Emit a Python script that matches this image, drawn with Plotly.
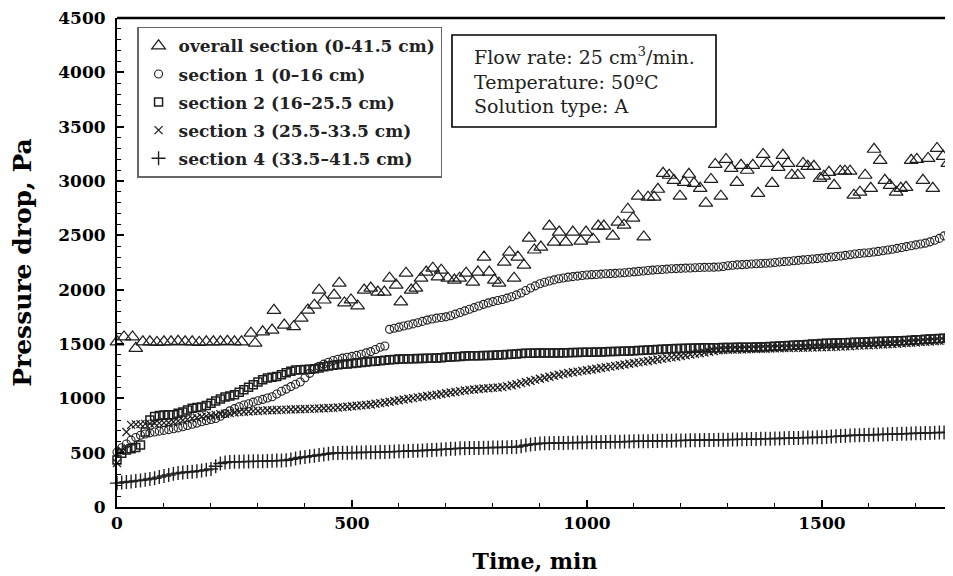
import plotly.graph_objects as go

# ---------------- data ----------------
time_min = [
    0, 10, 20, 30, 40, 50, 60, 70, 80, 90,
    100, 110, 120, 130, 140, 150, 160, 170, 180, 190,
    200, 210, 220, 230, 240, 250, 260, 270, 280, 290,
    300, 310, 320, 330, 340, 350, 360, 370, 380, 390,
    400, 410, 420, 430, 440, 450, 460, 470, 480, 490,
    500, 510, 520, 530, 540, 550, 560, 570, 580, 590,
    600, 610, 620, 630, 640, 650, 660, 670, 680, 690,
    700, 710, 720, 730, 740, 750, 760, 770, 780, 790,
    800, 810, 820, 830, 840, 850, 860, 870, 880, 890,
    900, 910, 920, 930, 940, 950, 960, 970, 980, 990,
    1000, 1010, 1020, 1030, 1040, 1050, 1060, 1070, 1080, 1090,
    1100, 1110, 1120, 1130, 1140, 1150, 1160, 1170, 1180, 1190,
    1200, 1210, 1220, 1230, 1240, 1250, 1260, 1270, 1280, 1290,
    1300, 1310, 1320, 1330, 1340, 1350, 1360, 1370, 1380, 1390,
    1400, 1410, 1420, 1430, 1440, 1450, 1460, 1470, 1480, 1490,
    1500, 1510, 1520, 1530, 1540, 1550, 1560, 1570, 1580, 1590,
    1600, 1610, 1620, 1630, 1640, 1650, 1660, 1670, 1680, 1690,
    1700, 1710, 1720, 1730, 1740, 1750, 1760, 1770, 1780,
]

section1 = [
    505, 545, 580, 615, 640, 660, 672, 682, 690, 698,
    705, 712, 720, 728, 738, 750, 762, 772, 785, 795,
    805, 815, 835, 860, 885, 905, 922, 938, 950, 965,
    978, 990, 1003, 1015, 1040, 1065, 1085, 1108, 1130, 1150,
    1190, 1230, 1270, 1295, 1315, 1332, 1348, 1360, 1370, 1378,
    1386, 1395, 1405, 1418, 1430, 1450, 1470, 1482, 1635, 1645,
    1655, 1665, 1675, 1685, 1695, 1708, 1720, 1730, 1738, 1744,
    1750, 1760, 1775, 1790, 1805, 1820, 1835, 1850, 1865, 1878,
    1890, 1900, 1910, 1922, 1935, 1952, 1970, 1992, 2015, 2035,
    2055, 2068, 2080, 2090, 2100, 2108, 2115, 2120, 2125, 2130,
    2135, 2138, 2140, 2143, 2146, 2148, 2150, 2153, 2156, 2160,
    2164, 2168, 2172, 2176, 2180, 2183, 2186, 2189, 2192, 2194,
    2196, 2198, 2200, 2202, 2204, 2205, 2206, 2207, 2208, 2213,
    2220, 2225, 2228, 2230, 2233, 2236, 2239, 2241, 2243, 2246,
    2250, 2254, 2258, 2262, 2266, 2270, 2274, 2278, 2282, 2286,
    2290, 2295, 2300, 2305, 2310, 2316, 2322, 2328, 2333, 2337,
    2340, 2346, 2352, 2358, 2365, 2372, 2380, 2388, 2396, 2404,
    2412, 2420, 2428, 2440, 2455, 2472, 2495, 2515, 2540,
]

section2 = [
    432, 495, 525, 535, 548, 570, 690, 800, 832, 842,
    847, 848, 850, 862, 875, 892, 908, 915, 920, 935,
    955, 975, 995, 1012, 1022, 1032, 1055, 1078, 1102, 1126,
    1150, 1170, 1188, 1195, 1200, 1218, 1235, 1250, 1260, 1262,
    1265, 1268, 1272, 1280, 1290, 1298, 1305, 1309, 1313, 1317,
    1321, 1325, 1330, 1334, 1338, 1342, 1346, 1350, 1354, 1358,
    1362, 1363, 1364, 1365, 1366, 1367, 1368, 1369, 1371, 1374,
    1377, 1380, 1383, 1386, 1389, 1391, 1392, 1393, 1394, 1395,
    1396, 1398, 1400, 1403, 1406, 1409, 1412, 1414, 1416, 1418,
    1418, 1418, 1418, 1418, 1418, 1419, 1420, 1421, 1422, 1423,
    1424, 1425, 1426, 1427, 1428, 1430, 1431, 1433, 1434, 1436,
    1437, 1440, 1442, 1445, 1447, 1450, 1452, 1455, 1456, 1458,
    1459, 1460, 1462, 1463, 1464, 1465, 1465, 1466, 1466, 1467,
    1468, 1468, 1469, 1470, 1471, 1471, 1472, 1473, 1474, 1476,
    1479, 1481, 1484, 1486, 1489, 1491, 1494, 1496, 1499, 1501,
    1504, 1506, 1508, 1509, 1511, 1512, 1514, 1515, 1517, 1518,
    1520, 1522, 1523, 1525, 1526, 1528, 1529, 1530, 1533, 1535,
    1538, 1540, 1543, 1545, 1548, 1550, 1552, 1555, 1557,
]

section3 = [
    405, 520, 690, 756, 760, 763, 765, 767, 770, 772,
    774, 776, 782, 790, 798, 806, 814, 822, 830, 836,
    842, 848, 853, 858, 864, 870, 873, 876, 879, 882,
    884, 887, 890, 891, 893, 894, 896, 897, 899, 900,
    902, 903, 905, 907, 909, 911, 912, 915, 919, 923,
    927, 931, 935, 939, 944, 950, 956, 962, 969, 976,
    983, 989, 996, 1002, 1009, 1015, 1021, 1027, 1033, 1040,
    1046, 1053, 1059, 1066, 1072, 1078, 1082, 1086, 1090, 1093,
    1096, 1099, 1103, 1112, 1121, 1130, 1140, 1150, 1160, 1170,
    1180, 1190, 1199, 1208, 1217, 1225, 1233, 1240, 1246, 1253,
    1259, 1266, 1272, 1279, 1286, 1292, 1299, 1305, 1312, 1318,
    1325, 1331, 1338, 1344, 1350, 1357, 1363, 1370, 1377, 1383,
    1390, 1396, 1403, 1409, 1415, 1421, 1428, 1436, 1443, 1445,
    1447, 1448, 1449, 1450, 1452, 1453, 1454, 1456, 1457, 1458,
    1460, 1461, 1462, 1463, 1464, 1465, 1466, 1467, 1468, 1469,
    1470, 1471, 1472, 1474, 1476, 1478, 1480, 1483, 1485, 1487,
    1489, 1491, 1494, 1496, 1498, 1500, 1503, 1506, 1509, 1511,
    1514, 1517, 1520, 1523, 1526, 1529, 1531, 1533, 1535,
]

section4 = [
    220, 225, 230, 235, 240, 245, 250, 257, 265, 275,
    285, 295, 305, 312, 318, 322, 325, 330, 335, 342,
    350, 375, 400, 410, 415, 416, 417, 418, 419, 420,
    420, 422, 424, 425, 427, 428, 430, 438, 446, 455,
    460, 466, 472, 478, 484, 490, 497, 498, 499, 499,
    500, 501, 502, 503, 504, 504, 505, 507, 508, 510,
    512, 513, 515, 517, 518, 520, 522, 525, 527, 530,
    532, 535, 537, 540, 541, 542, 543, 544, 545, 546,
    547, 548, 549, 550, 551, 552, 560, 568, 575, 580,
    585, 586, 587, 588, 589, 590, 591, 592, 593, 594,
    595, 596, 597, 598, 599, 600, 601, 601, 602, 603,
    604, 605, 605, 606, 607, 608, 609, 609, 610, 611,
    612, 613, 614, 614, 615, 616, 617, 617, 618, 619,
    620, 621, 622, 623, 624, 625, 626, 627, 628, 629,
    630, 631, 632, 634, 635, 636, 638, 639, 640, 642,
    643, 645, 648, 650, 653, 655, 658, 660, 661, 663,
    664, 665, 667, 668, 669, 671, 672, 674, 675, 676,
    678, 679, 681, 682, 684, 685, 686, 687, 688,
]

overall_time = [
    0, 15, 33, 40, 55, 70, 85, 100, 115, 130,
    145, 160, 175, 190, 205, 220, 235, 250, 265, 285,
    294, 310, 330, 334, 356, 376, 392, 406, 420, 430,
    441, 462, 473, 484, 498, 512, 526, 540, 555, 569,
    580, 594, 604, 615, 626, 636, 647, 658, 672, 683,
    690, 704, 718, 729, 743, 757, 768, 781, 792, 803,
    813, 824, 835, 845, 853, 866, 877, 888, 902, 920,
    930, 941, 955, 970, 987, 998, 1013, 1024, 1036, 1055,
    1066, 1079, 1087, 1098, 1109, 1121, 1130, 1143, 1151, 1162,
    1175, 1185, 1198, 1207, 1217, 1228, 1241, 1253, 1264, 1273,
    1285, 1296, 1307, 1319, 1328, 1341, 1353, 1364, 1375, 1383,
    1394, 1407, 1417, 1428, 1436, 1449, 1460, 1470, 1483, 1496,
    1504, 1515, 1526, 1539, 1549, 1560, 1568, 1581, 1592, 1604,
    1611, 1624, 1634, 1645, 1658, 1668, 1679, 1690, 1702, 1715,
    1726, 1736, 1745, 1758, 1768, 1779,
]

overall = [
    1520, 1565, 1565, 1460, 1520, 1520, 1515, 1520, 1520, 1525,
    1520, 1520, 1515, 1520, 1520, 1520, 1525, 1520, 1520, 1600,
    1508, 1612, 1628, 1810, 1674, 1659, 1738, 1812, 1857, 1995,
    1905, 1950, 2060, 1878, 1906, 1851, 1996, 2015, 1978, 1978,
    2106, 2042, 1888, 2152, 1996, 2015, 2106, 2162, 2198, 2117,
    2180, 2106, 2088, 2106, 2152, 2070, 2162, 2300, 2162, 2088,
    2060, 2253, 2345, 2106, 2300, 2226, 2475, 2365, 2392, 2585,
    2438, 2530, 2438, 2530, 2447, 2530, 2465, 2585, 2585, 2493,
    2621, 2594, 2740, 2658, 2860, 2485, 2851, 2851, 2924, 3071,
    3053, 3006, 2860, 2988, 3062, 2979, 2933, 2796, 3015, 3153,
    2860, 3199, 3117, 2988, 3144, 3099, 3144, 2887, 3245, 3162,
    2979, 3126, 3236, 3162, 3053, 3053, 3162, 3135, 3135, 3024,
    3044, 3080, 2960, 3090, 3090, 3090, 2870, 2897, 3053, 2933,
    3292, 3190, 3006, 2960, 2897, 2933, 2942, 3190, 3199, 3006,
    3208, 2933, 3300, 3227, 3162, 3006,
]

names = [
    "overall section (0-41.5 cm)",
    "section 1 (0\u201316 cm)",
    "section 2 (16\u201325.5 cm)",
    "section 3 (25.5-33.5 cm)",
    "section 4 (33.5\u201341.5 cm)",
]
x_ticks = [0, 500, 1000, 1500]
y_ticks = [0, 500, 1000, 1500, 2000, 2500, 3000, 3500, 4000, 4500]

# ---------------- figure ----------------
FONT = "DejaVu Serif"
INK = "#1e1e1e"

fig = go.Figure()

series = [
    (overall_time, overall, "triangle-up-open", 12, 1.2),
    (time_min, section1, "circle-open", 8, 1.1),
    (time_min, section2, "square-open", 8, 1.5),
    (time_min, section3, "x-thin-open", 8, 1.3),
    (time_min, section4, "cross-thin-open", 10, 1.4),
]

for i, (xs, ys, sym, size, lw) in enumerate(series):
    fig.add_trace(go.Scatter(
        x=xs, y=ys, mode="markers", name=names[i],
        legendgroup=f"g{i}",
        cliponaxis=False,
        marker=dict(symbol=sym, size=size, color=INK,
                    line=dict(color=INK, width=lw)),
    ))

axis_common = dict(
    showgrid=False, zeroline=False,
    showline=True, linecolor="black", linewidth=2,
    ticks="inside", ticklen=7, tickwidth=1.5, tickcolor="black",
    ticklabeloverflow="allow",
    tickfont=dict(family=FONT, size=17, color="black", weight="bold"),
)

fig.update_xaxes(
    range=[0, 1779], tickvals=x_ticks,
    minor=dict(dtick=100, ticks="inside", ticklen=4, tickwidth=1.2, tickcolor="black"),
    title=dict(text="Time, min", font=dict(family=FONT, size=22, color="black", weight="bold"),
               standoff=21),
    ticklabelstandoff=0,
    **axis_common,
)
fig.update_yaxes(
    range=[0, 4500], tickvals=y_ticks,
    minor=dict(dtick=100, ticks="inside", ticklen=4, tickwidth=1.2, tickcolor="black"),
    title=dict(text="Pressure drop, Pa", font=dict(family=FONT, size=25, color="black", weight="bold"),
               standoff=26),
    ticklabelstandoff=6,
    **axis_common,
)

# top frame line
fig.add_shape(type="line", xref="paper", yref="paper", x0=0, x1=1, y0=1, y1=1,
              line=dict(color="black", width=2.5))

# info box: frame + text
fig.add_shape(type="rect", xref="paper", yref="paper",
              x0=0.4007, x1=0.7165, y0=0.7771, y1=0.9652,
              line=dict(color="black", width=1.6), fillcolor="white", layer="above")
fig.add_annotation(
    xref="paper", yref="paper", x=0.4246, y=0.8712, xanchor="left", yanchor="middle",
    text="Flow rate: 25 cm<sup>3</sup>/min.<br>Temperature: 50\u00baC<br>Solution type: A",
    align="left", showarrow=False,
    font=dict(family=FONT, size=19, color="#222"),
)

# the page adds an 8px body margin, so the figure is 8px smaller than the window
fig.update_layout(
    width=945, height=568,
    margin=dict(l=109, r=0, t=10, b=69),
    paper_bgcolor="white", plot_bgcolor="white",
    showlegend=True,
    legend=dict(
        x=0.024, y=0.982, xanchor="left", yanchor="top",
        bgcolor="white", bordercolor="#666", borderwidth=1.5,
        font=dict(family=FONT, size=17, color="#222", weight="bold"),
        tracegroupgap=3, itemwidth=30,
    ),
)

fig.write_html("out.html")
